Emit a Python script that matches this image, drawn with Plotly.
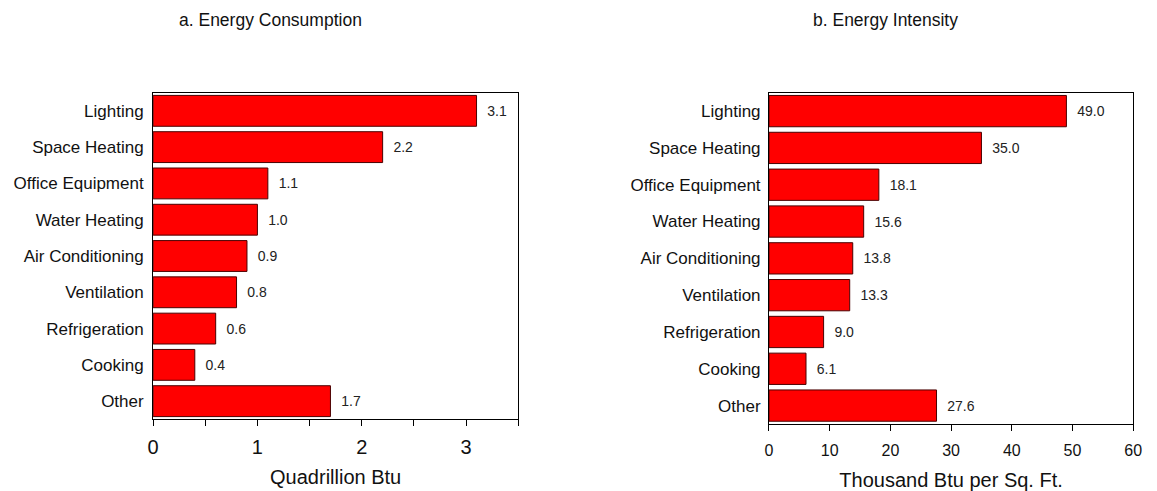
import plotly.graph_objects as go

categories = ["Lighting", "Space Heating", "Office Equipment", "Water Heating",
              "Air Conditioning", "Ventilation", "Refrigeration", "Cooking", "Other"]
consumption = [3.1, 2.2, 1.1, 1.0, 0.9, 0.8, 0.6, 0.4, 1.7]
intensity = [49.0, 35.0, 18.1, 15.6, 13.8, 13.3, 9.0, 6.1, 27.6]

left_tickvals = [0, 0.5, 1, 1.5, 2, 2.5, 3, 3.5]
left_ticktext = ["0", "", "1", "", "2", "", "3", ""]
right_tickvals = [0, 10, 20, 30, 40, 50, 60]

FONT = "Liberation Sans, Arial, sans-serif"
W, H = 1157, 491

def px_x(p):
    return p / W

def px_y(p):
    return 1 - p / H

bar_style = dict(
    orientation="h",
    marker=dict(color="#ff0000", line=dict(color="#4a0000", width=1)),
    textposition="outside",
    constraintext="none",
    cliponaxis=False,
    textfont=dict(family=FONT, size=14, color="#222222"),
    showlegend=False,
    hoverinfo="x+y",
)

fig = go.Figure()
fig.add_trace(go.Bar(x=consumption, y=categories, xaxis="x", yaxis="y",
                     text=["  %.1f" % v for v in consumption], **bar_style))
fig.add_trace(go.Bar(x=intensity, y=categories, xaxis="x2", yaxis="y2",
                     text=["  %.1f" % v for v in intensity], **bar_style))

axis_common = dict(showline=True, linecolor="black", linewidth=1, mirror=True,
                   showgrid=False, zeroline=False)

fig.update_layout(
    width=W, height=H,
    margin=dict(l=0, r=0, t=0, b=0),
    paper_bgcolor="white", plot_bgcolor="white",
    font=dict(family=FONT, color="#111111"),
    bargap=0.15,
    xaxis=dict(domain=[px_x(149), px_x(519)], range=[0, 3.5], anchor="y",
               tickmode="array", tickvals=left_tickvals, ticktext=left_ticktext,
               ticks="outside", ticklen=6, tickcolor="black",
               tickfont=dict(size=20, family=FONT), ticklabelstandoff=4,
               title=dict(text="Quadrillion Btu", font=dict(size=20, family=FONT), standoff=12),
               **axis_common),
    yaxis=dict(domain=[px_y(419.3), px_y(92.7)], anchor="x",
               categoryorder="array", categoryarray=categories, autorange="reversed",
               ticks="", tickfont=dict(size=17, family=FONT), ticklabelstandoff=5,
               **axis_common),
    xaxis2=dict(domain=[px_x(773), px_x(1142)], range=[0, 60], anchor="y2",
                tickmode="array", tickvals=right_tickvals,
                ticks="outside", ticklen=6, tickcolor="black",
                tickfont=dict(size=16, family=FONT), ticklabelstandoff=6,
                title=dict(text="Thousand Btu per Sq. Ft.", font=dict(size=20, family=FONT), standoff=14),
                **axis_common),
    yaxis2=dict(domain=[px_y(424), px_y(92.7)], anchor="x2",
                categoryorder="array", categoryarray=categories, autorange="reversed",
                ticks="", tickfont=dict(size=17, family=FONT), ticklabelstandoff=4,
                **axis_common),
    annotations=[
        dict(text="a. Energy Consumption", x=px_x(267.5), y=px_y(20), xref="paper", yref="paper",
             xanchor="center", yanchor="middle", showarrow=False,
             font=dict(size=17.5, family=FONT, color="#111111")),
        dict(text="b. Energy Intensity", x=px_x(891), y=px_y(20), xref="paper", yref="paper",
             xanchor="center", yanchor="middle", showarrow=False,
             font=dict(size=17.5, family=FONT, color="#111111")),
    ],
)

fig.write_html("out.html",
               config={"displayModeBar": False},
               post_script="document.body.style.margin='0';document.body.style.padding='0';"
                           "document.documentElement.style.overflow='hidden';")
